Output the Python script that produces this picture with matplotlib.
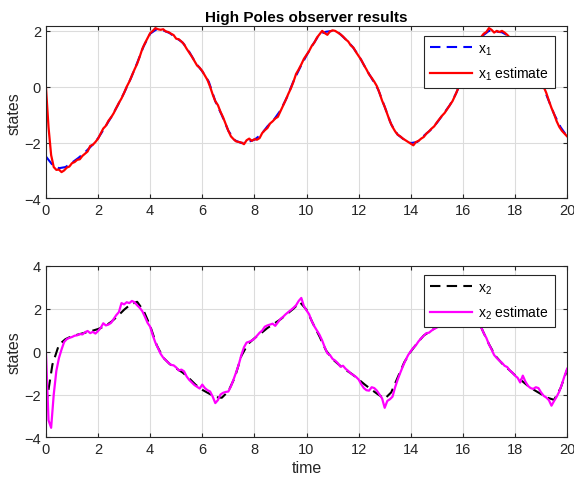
import numpy as np
import matplotlib
matplotlib.use('Agg')
import matplotlib.pyplot as plt

plt.rcParams['font.family'] = ['Liberation Sans', 'DejaVu Sans']
plt.rcParams['mathtext.fontset'] = 'custom'
plt.rcParams['mathtext.rm'] = 'Liberation Sans'

# x1 true state, every 0.25 s
x1 = [-2.50, -2.80, -2.92, -2.88, -2.72, -2.55, -2.35, -2.12, -1.85, -1.48,
      -1.10, -0.68, -0.22, 0.28, 0.85, 1.45, 1.90, 2.06, 2.02, 1.92,
      1.75, 1.58, 1.25, 0.85, 0.55, 0.18, -0.52, -1.02, -1.58, -1.92,
      -2.02, -1.98, -1.90, -1.72, -1.42, -1.18, -0.85, -0.38, 0.20, 0.68,
      1.12, 1.52, 1.88, 1.97, 2.00, 1.92, 1.70, 1.45, 1.12, 0.70,
      0.30, -0.10, -0.72, -1.35, -1.72, -1.90, -2.02, -1.98, -1.76, -1.56,
      -1.30, -0.98, -0.66, -0.22, 0.35, 0.95, 1.45, 1.82, 2.00, 1.98,
      1.95, 1.82, 1.60, 1.25, 0.90, 0.52, 0.18, -0.40, -0.98, -1.45,
      -1.78]

# x1 estimate, every 0.1 s
x1_est = [0.00, -1.45, -2.45, -2.88, -2.98, -2.97, -3.06, -3.00, -2.90, -2.86,
          -2.74, -2.70, -2.62, -2.60, -2.48, -2.40, -2.32, -2.12, -2.08, -1.98,
          -1.86, -1.68, -1.50, -1.40, -1.22, -1.10, -0.95, -0.76, -0.58, -0.42,
          -0.22, 0.00, 0.18, 0.40, 0.62, 0.82, 1.08, 1.36, 1.56, 1.74,
          1.92, 2.00, 2.10, 2.06, 2.04, 2.06, 1.98, 1.96, 1.90, 1.85,
          1.72, 1.70, 1.62, 1.52, 1.36, 1.22, 1.08, 0.92, 0.76, 0.68,
          0.56, 0.40, 0.24, 0.00, -0.28, -0.52, -0.66, -0.90, -1.10, -1.34,
          -1.58, -1.78, -1.88, -1.96, -1.98, -2.00, -2.06, -1.92, -1.86, -1.94,
          -1.88, -1.90, -1.84, -1.66, -1.56, -1.48, -1.32, -1.24, -1.14, -1.08,
          -0.88, -0.68, -0.48, -0.26, -0.06, 0.18, 0.46, 0.62, 0.80, 1.00,
          1.14, 1.28, 1.46, 1.58, 1.76, 1.88, 2.00, 1.92, 1.86, 1.98,
          2.02, 2.00, 1.94, 1.88, 1.80, 1.70, 1.62, 1.48, 1.40, 1.24,
          1.10, 0.96, 0.78, 0.62, 0.44, 0.32, 0.18, 0.02, -0.22, -0.50,
          -0.72, -0.98, -1.24, -1.44, -1.60, -1.72, -1.78, -1.86, -1.92, -1.98,
          -2.04, -2.10, -1.98, -1.94, -1.86, -1.80, -1.68, -1.60, -1.50, -1.42,
          -1.28, -1.16, -1.04, -0.94, -0.80, -0.66, -0.52, -0.32, -0.10, 0.16,
          0.36, 0.60, 0.84, 1.08, 1.28, 1.46, 1.62, 1.78, 1.90, 1.96,
          2.10, 2.04, 1.94, 2.00, 1.96, 2.00, 1.94, 1.86, 1.76, 1.68,
          1.58, 1.44, 1.32, 1.16, 1.04, 0.90, 0.74, 0.58, 0.46, 0.30,
          0.16, 0.00, -0.22, -0.50, -0.76, -0.98, -1.24, -1.44, -1.58, -1.68,
          -1.78]

# x2 true state, every 0.25 s
x2 = [-2.55, -0.60, 0.32, 0.58, 0.72, 0.80, 0.88, 0.96, 1.05, 1.18,
      1.38, 1.65, 1.95, 2.20, 2.32, 1.90, 1.20, 0.30, -0.28, -0.58,
      -0.78, -0.98, -1.25, -1.55, -1.78, -1.95, -2.12, -2.15, -1.85, -1.20,
      -0.20, 0.35, 0.62, 0.85, 1.10, 1.30, 1.50, 1.75, 2.00, 2.30,
      1.95, 1.30, 0.70, 0.05, -0.35, -0.62, -0.85, -1.05, -1.30, -1.55,
      -1.78, -2.00, -2.20, -1.90, -1.20, -0.50, 0.00, 0.40, 0.75, 0.95,
      1.15, 1.35, 1.55, 1.75, 1.95, 2.10, 1.70, 1.00, 0.35, -0.20,
      -0.55, -0.82, -1.10, -1.35, -1.60, -1.80, -1.98, -2.15, -2.25, -1.70,
      -0.85]

# x2 estimate, every 0.1 s
x2_est = [0.00, -3.20, -3.55, -2.00, -0.90, -0.30, 0.10, 0.45, 0.58, 0.64,
          0.68, 0.74, 0.76, 0.82, 0.80, 0.90, 0.96, 0.86, 0.92, 0.84,
          0.96, 1.10, 1.32, 1.22, 1.26, 1.34, 1.52, 1.70, 1.84, 2.26,
          2.20, 2.30, 2.26, 2.36, 2.30, 2.16, 2.04, 1.88, 1.62, 1.34,
          1.16, 0.76, 0.42, 0.16, -0.10, -0.28, -0.40, -0.52, -0.62, -0.64,
          -0.74, -0.88, -0.84, -0.92, -1.16, -1.32, -1.44, -1.56, -1.64, -1.72,
          -1.54, -1.70, -1.80, -1.86, -2.10, -2.40, -2.26, -2.00, -1.92, -1.88,
          -1.86, -1.62, -1.30, -0.96, -0.60, -0.16, 0.20, 0.42, 0.46, 0.52,
          0.60, 0.74, 0.88, 0.98, 1.16, 1.22, 1.26, 1.30, 1.20, 1.36,
          1.52, 1.62, 1.74, 1.84, 1.94, 2.04, 2.16, 2.36, 2.50, 2.12,
          1.92, 1.74, 1.42, 1.18, 0.98, 0.78, 0.52, 0.20, -0.08, -0.16,
          -0.34, -0.42, -0.54, -0.70, -0.66, -0.80, -0.90, -1.02, -1.10, -1.18,
          -1.30, -1.52, -1.70, -1.80, -1.82, -1.66, -1.70, -1.82, -2.00, -2.18,
          -2.62, -2.30, -2.22, -2.10, -1.66, -1.30, -0.98, -0.68, -0.40, -0.16,
          0.02, 0.18, 0.30, 0.48, 0.62, 0.74, 0.86, 0.88, 0.98, 1.06,
          1.12, 1.20, 1.28, 1.38, 1.48, 1.56, 1.66, 1.76, 1.86, 1.96,
          2.04, 2.12, 2.08, 1.96, 1.78, 1.56, 1.32, 1.14, 0.86, 0.64,
          0.34, 0.10, -0.16, -0.30, -0.42, -0.52, -0.66, -0.72, -0.88, -0.98,
          -1.12, -1.22, -1.44, -1.12, -1.40, -1.60, -1.70, -1.74, -1.66, -1.70,
          -1.90, -2.06, -2.14, -2.26, -2.52, -2.30, -2.10, -1.86, -1.52, -1.14,
          -0.80]

t_true = np.linspace(0, 20, len(x1))
t_est = np.linspace(0, 20, len(x1_est))

fig = plt.figure(figsize=(5.74, 4.85), dpi=100)
ax1 = fig.add_axes([0.080, 0.589, 0.908, 0.355])
ax2 = fig.add_axes([0.080, 0.096, 0.908, 0.354])

dark = '#262626'


def style(ax, ylim, yticks):
    ax.set_xlim(0, 20)
    ax.set_ylim(*ylim)
    ax.set_xticks(range(0, 21, 2))
    ax.set_yticks(yticks)
    ax.grid(True, color='#dcdcdc', linewidth=0.8)
    ax.set_axisbelow(True)
    ax.tick_params(direction='in', length=3, width=0.8, colors=dark,
                   labelsize=10.5, top=True, right=True)
    for s in ax.spines.values():
        s.set_color(dark)
        s.set_linewidth(0.8)
    ax.set_ylabel('states', fontsize=11.5, color=dark, labelpad=2)


def add_legend(ax, top):
    leg = ax.legend(loc='upper right', bbox_to_anchor=(0.976, top), fontsize=10,
                    fancybox=False, framealpha=1, edgecolor=dark, handlelength=3.0,
                    handletextpad=0.5, borderaxespad=0, labelspacing=0.6)
    leg.get_frame().set_linewidth(0.8)


ax1.plot(t_true, x1, '--', color='blue', lw=1.5, dashes=(5, 3), label=r'x$_\mathregular{1}$')
ax1.plot(t_est, x1_est, '-', color='red', lw=1.6, label=r'x$_\mathregular{1}$ estimate')
style(ax1, (-4, 2.17), [-4, -2, 0, 2])
ax1.set_title('High Poles observer results', fontsize=11, fontweight='bold', pad=4)
add_legend(ax1, 0.944)

ax2.plot(t_true, x2, '--', color='black', lw=1.5, dashes=(5, 3), label=r'x$_\mathregular{2}$')
ax2.plot(t_est, x2_est, '-', color='magenta', lw=1.6, label=r'x$_\mathregular{2}$ estimate')
style(ax2, (-4, 4), [-4, -2, 0, 2, 4])
ax2.set_xlabel('time', fontsize=11.5, color=dark, labelpad=3)
add_legend(ax2, 0.948)

fig.savefig('out.png', dpi=100)
